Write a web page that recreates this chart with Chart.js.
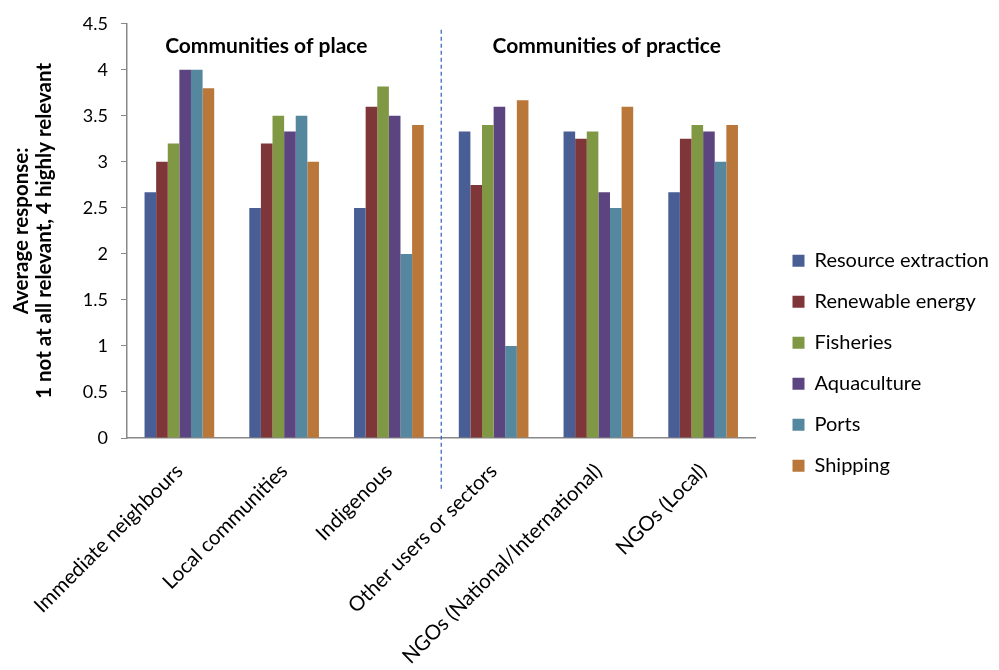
<!DOCTYPE html>
<html>
<head>
<meta charset="utf-8">
<script src="https://cdn.jsdelivr.net/npm/chart.js@4.4.1/dist/chart.umd.min.js"></script>
<style>
  html, body { margin: 0; padding: 0; background: #fff; }
  #wrap { width: 999px; height: 670px; }
</style>
</head>
<body>
<div id="wrap"><canvas id="chart" width="999" height="670"></canvas></div>
<script>
// stakeholder groups along the x axis
const groups = [
  'Immediate neighbours',
  'Local communities',
  'Indigenous',
  'Other users or sectors',
  'NGOs (National/International)',
  'NGOs (Local)'
];

// average response per sector (1 not at all relevant, 4 highly relevant)
const resourceExtraction = [2.67, 2.5, 2.5, 3.33, 3.33, 2.67];
const renewableEnergy    = [3.0, 3.2, 3.6, 2.75, 3.25, 3.25];
const fisheries          = [3.2, 3.5, 3.82, 3.4, 3.33, 3.4];
const aquaculture        = [4.0, 3.33, 3.5, 3.6, 2.67, 3.33];
const ports              = [4.0, 3.5, 2.0, 1.0, 2.5, 3.0];
const shipping           = [3.8, 3.0, 3.4, 3.67, 3.6, 3.4];

const yTicks = [0, 0.5, 1, 1.5, 2, 2.5, 3, 3.5, 4, 4.5];

const seriesNames  = ['Resource extraction', 'Renewable energy', 'Fisheries', 'Aquaculture', 'Ports', 'Shipping'];
const seriesValues = [resourceExtraction, renewableEnergy, fisheries, aquaculture, ports, shipping];
const seriesColors = ['#4A5E96', '#7E3638', '#809744', '#5C4480', '#55879F', '#B9773A'];

const FONT = 'Lato, "Open Sans", sans-serif';
Chart.defaults.font.family = FONT;
Chart.defaults.color = '#000';

// dashed divider and the two group captions
const dividerPlugin = {
  id: 'divider',
  afterDatasetsDraw(chart, args, opts) {
    const { ctx, chartArea } = chart;
    const x = chart.scales.x;
    const y = chart.scales.y;
    const lx = x.getPixelForValue(opts.splitAt);
    ctx.save();
    ctx.strokeStyle = '#4169C4';
    ctx.lineWidth = 1.3;
    ctx.setLineDash([4, 3]);
    ctx.beginPath();
    ctx.moveTo(lx, chartArea.top + 6);
    ctx.lineTo(lx, chartArea.bottom + 52);
    ctx.stroke();
    ctx.setLineDash([]);
    ctx.fillStyle = '#000';
    ctx.font = 'bold 21px ' + FONT;
    ctx.textAlign = 'center';
    ctx.textBaseline = 'middle';
    opts.captions.forEach(c => {
      ctx.fillText(c.text, x.getPixelForValue(c.at), y.getPixelForValue(c.level));
    });
    ctx.restore();
  }
};

new Chart(document.getElementById('chart'), {
  type: 'bar',
  data: {
    labels: groups,
    datasets: seriesNames.map((name, i) => ({
      label: name,
      data: seriesValues[i],
      backgroundColor: seriesColors[i],
      borderWidth: 0,
      categoryPercentage: 0.665,
      barPercentage: 1
    }))
  },
  options: {
    responsive: false,
    devicePixelRatio: 1,
    animation: false,
    layout: { padding: { top: 19, right: 0, bottom: 0, left: 0 } },
    scales: {
      x: {
        grid: { drawOnChartArea: false, drawTicks: false },
        border: { color: '#888', width: 1.5 },
        ticks: {
          autoSkip: false,
          minRotation: 45,
          maxRotation: 45,
          padding: 21,
          font: { size: 20.5 }
        },
        afterFit: s => { s.height = 232; }
      },
      y: {
        min: 0,
        max: 4.5,
        afterBuildTicks: s => { s.ticks = yTicks.map(v => ({ value: v })); },
        grid: { drawOnChartArea: false, tickLength: 6, color: '#888' },
        border: { color: '#888', width: 1.5 },
        ticks: { padding: 13, font: { size: 18 }, callback: v => String(v) },
        title: {
          display: true,
          text: ['Average response:', '1 not at all relevant, 4 highly relevant'],
          font: { size: 20.5, weight: 'bold', lineHeight: 1.12 },
          padding: { top: 10, bottom: 0 }
        },
        afterFit: s => { s.width = 127; }
      },
      // spacer between the plot and the legend
      gap: {
        type: 'linear',
        position: 'right',
        grid: { display: false },
        border: { display: false },
        ticks: { display: false },
        afterFit: s => { s.width = 16; }
      }
    },
    plugins: {
      legend: {
        position: 'right',
        align: 'center',
        maxWidth: 320,
        title: { display: true, text: ' ', font: { size: 12 }, padding: { top: 0, bottom: 23 } },
        labels: {
          boxWidth: 12,
          boxHeight: 12,
          padding: 21,
          font: { size: 20 },
          color: '#000'
        }
      },
      tooltip: { enabled: false },
      divider: {
        splitAt: 2.5,
        captions: [
          { text: 'Communities of place', at: 0.83, level: 4.26 },
          { text: 'Communities of practice', at: 4.08, level: 4.26 }
        ]
      }
    }
  },
  plugins: [dividerPlugin]
});
</script>
</body>
</html>
